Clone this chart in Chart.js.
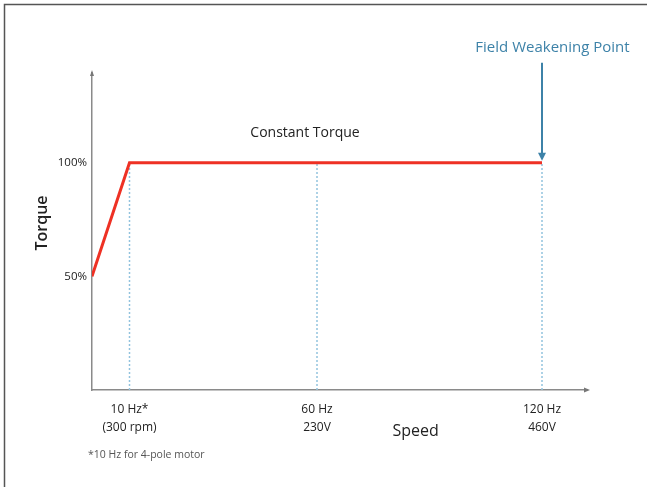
<!DOCTYPE html>
<html>
<head>
<meta charset="utf-8">
<script src="https://cdn.jsdelivr.net/npm/chart.js@4/dist/chart.umd.min.js"></script>
<style>
  html, body { margin: 0; padding: 0; background: #fff; }
  #wrap { position: relative; width: 647px; height: 487px; }
</style>
</head>
<body>
<div id="wrap"><canvas id="c" width="647" height="487"></canvas></div>
<script>
// ---- data ----
const speedHz = [0, 10, 120];
const torquePct = [50, 100, 100];
const markerHz = [10, 60, 120];
const markerTorque = [100, 100, 100];
const yTickValues = [50, 100];
const yTickLabels = ['50%', '100%'];
const xTickLabels = [['10 Hz*', '(300 rpm)'], ['60 Hz', '230V'], ['120 Hz', '460V']];
const xTitle = 'Speed';
const yTitle = 'Torque';
const plateauLabel = 'Constant Torque';
const fieldLabel = 'Field Weakening Point';
const footnote = '*10 Hz for 4-pole motor';

const FONT = "'Open Sans', 'DejaVu Sans', sans-serif";
const AXIS_COLOR = '#8a8a8a';
const BLUE = '#3d82a8';

const datasets = [];
markerHz.forEach((hz, i) => {
  datasets.push({
    data: [{x: hz, y: 0}, {x: hz, y: markerTorque[i]}],
    borderColor: '#92c3de',
    borderWidth: 1.5,
    borderDash: [2, 2],
    pointRadius: 0,
    showLine: true,
    order: 2
  });
});
datasets.push({
  data: speedHz.map((x, i) => ({x, y: torquePct[i]})),
  borderColor: '#ee3124',
  borderWidth: 3,
  pointRadius: 0,
  showLine: true,
  borderJoinStyle: 'miter',
  order: 1
});

const decor = {
  id: 'decor',
  beforeDraw(chart) {
    const ctx = chart.ctx;
    ctx.save();
    ctx.fillStyle = '#fff';
    ctx.fillRect(0, 0, chart.width, chart.height);
    ctx.strokeStyle = '#555';
    ctx.lineWidth = 1.5;
    ctx.beginPath();
    ctx.moveTo(4.5, chart.height);
    ctx.lineTo(4.5, 4.5);
    ctx.lineTo(chart.width, 4.5);
    ctx.stroke();
    ctx.restore();
  },
  afterDraw(chart) {
    const ctx = chart.ctx;
    const xs = chart.scales.x, ys = chart.scales.y;
    const ca = chart.chartArea;
    ctx.save();
    // axis arrow tips
    ctx.fillStyle = '#777';
    ctx.beginPath();
    ctx.moveTo(ca.right + 3, ca.bottom);
    ctx.lineTo(ca.right - 3, ca.bottom - 2.5);
    ctx.lineTo(ca.right - 3, ca.bottom + 2.5);
    ctx.closePath();
    ctx.fill();
    ctx.beginPath();
    ctx.moveTo(ca.left, ca.top - 3);
    ctx.lineTo(ca.left - 2, ca.top + 3);
    ctx.lineTo(ca.left + 2, ca.top + 3);
    ctx.closePath();
    ctx.fill();

    // field weakening arrow
    const ax = xs.getPixelForValue(markerHz[2]);
    const yTop = ys.getPixelForValue(144);
    const yTip = ys.getPixelForValue(markerTorque[2]) - 2;
    ctx.strokeStyle = BLUE;
    ctx.fillStyle = BLUE;
    ctx.lineWidth = 2;
    ctx.beginPath();
    ctx.moveTo(ax, yTop);
    ctx.lineTo(ax, yTip - 6);
    ctx.stroke();
    ctx.beginPath();
    ctx.moveTo(ax, yTip);
    ctx.lineTo(ax - 4, yTip - 8);
    ctx.lineTo(ax + 4, yTip - 8);
    ctx.closePath();
    ctx.fill();

    ctx.textAlign = 'center';
    ctx.textBaseline = 'middle';
    ctx.fillStyle = BLUE;
    ctx.font = '15px ' + FONT;
    ctx.fillText(fieldLabel, xs.getPixelForValue(122.8), ys.getPixelForValue(150.8));

    ctx.fillStyle = '#222';
    ctx.font = '14px ' + FONT;
    ctx.fillText(plateauLabel, xs.getPixelForValue(56.8), ys.getPixelForValue(113));

    ctx.font = '16px ' + FONT;
    ctx.fillText(xTitle, xs.getPixelForValue(86.3), 431);

    ctx.save();
    ctx.translate(42, ys.getPixelForValue(73.5));
    ctx.rotate(-Math.PI / 2);
    ctx.font = '600 16px ' + FONT;
    ctx.fillText(yTitle, 0, 0);
    ctx.restore();

    ctx.textAlign = 'left';
    ctx.fillStyle = '#555';
    ctx.font = '10.5px ' + FONT;
    ctx.fillText(footnote, 88, 455);
    ctx.restore();
  }
};

new Chart(document.getElementById('c'), {
  type: 'scatter',
  data: { datasets },
  options: {
    responsive: false,
    animation: false,
    devicePixelRatio: 1,
    layout: { padding: { left: 0, top: 73, right: 60, bottom: 0 } },
    plugins: { legend: { display: false }, tooltip: { enabled: false } },
    scales: {
      x: {
        type: 'linear',
        min: 0,
        max: 132,
        afterFit(s) { s.height = 97; },
        afterBuildTicks(s) { s.ticks = markerHz.map(v => ({ value: v })); },
        grid: { display: false, drawTicks: false },
        border: { display: true, color: AXIS_COLOR, width: 1.5 },
        ticks: {
          autoSkip: false,
          maxRotation: 0,
          padding: 11,
          color: '#222',
          font: { family: FONT, size: 12, lineHeight: 1.5 },
          callback(v) { const i = markerHz.indexOf(v); return i >= 0 ? xTickLabels[i] : ''; }
        }
      },
      y: {
        type: 'linear',
        min: 0,
        max: 139.5,
        afterFit(s) { s.width = 92; },
        afterBuildTicks(s) { s.ticks = yTickValues.map(v => ({ value: v })); },
        grid: { display: false, drawTicks: false },
        border: { display: true, color: AXIS_COLOR, width: 1.5 },
        ticks: {
          padding: 5,
          color: '#222',
          font: { family: FONT, size: 11.5 },
          callback(v) { const i = yTickValues.indexOf(v); return i >= 0 ? yTickLabels[i] : ''; }
        }
      }
    }
  },
  plugins: [decor]
});
</script>
</body>
</html>
